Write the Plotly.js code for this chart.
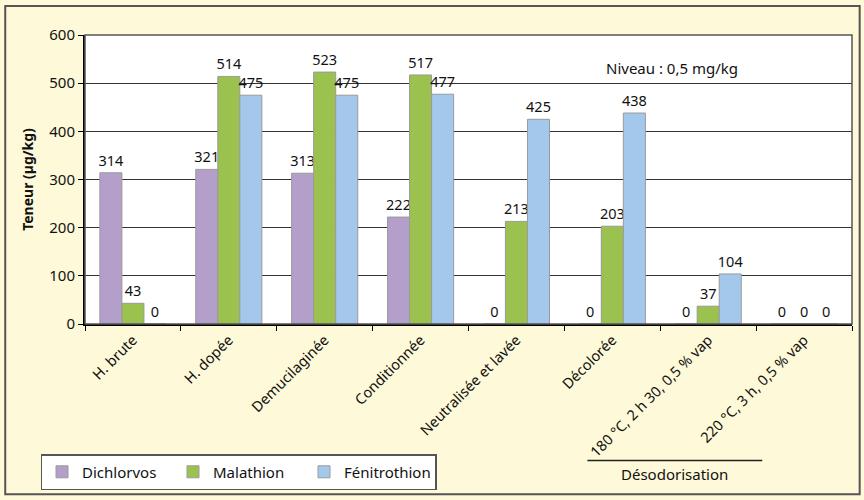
<!DOCTYPE html>
<html><head><meta charset="utf-8">
<script src="https://cdn.plot.ly/plotly-3.0.1.min.js"></script>
<style>body{margin:0;background:#fff;} #c{width:864px;height:500px;}</style>
</head><body><div id="c"></div>
<script>
const categories = ["H. brute","H. dopée","Demucilaginée","Conditionnée","Neutralisée et lavée","Décolorée","180 °C, 2 h 30, 0,5 % vap","220 °C, 3 h, 0,5 % vap"];
const dichlorvos = [314,321,313,222,0,0,0,0];
const malathion = [43,514,523,517,213,203,37,0];
const fenitrothion = [0,475,475,477,425,438,104,0];
const seriesNames = ["Dichlorvos","Malathion","Fénitrothion"];
const colors = ["#b49fca","#9bc24f","#a3c8eb"];
const font = "Noto Sans, sans-serif";

const mk = (name, y, color) => ({
  type:"bar", name, x:categories, y,
  marker:{color, line:{color:"#9a9a9a", width:1}},
  text:y.map(String), textposition:"outside", cliponaxis:false, constraintext:"none",
  textfont:{family:font, size:14.5, color:"#111"}
});
const data = [mk(seriesNames[0],dichlorvos,colors[0]), mk(seriesNames[1],malathion,colors[1]), mk(seriesNames[2],fenitrothion,colors[2])];

const layout = {
  width:864, height:500,
  paper_bgcolor:"#fef9d8", plot_bgcolor:"#ffffff",
  margin:{l:85, r:12, t:35, b:175},
  font:{family:font, size:15, color:"#111"},
  barmode:"group", bargap:0.31, bargroupgap:0,
  xaxis:{tickangle:-45, tickson:"boundaries", ticks:"outside", ticklen:5, tickcolor:"#000",
    showline:true, linecolor:"#000", linewidth:2, mirror:false, tickfont:{size:14.5}},
  yaxis:{range:[0,600], dtick:100, ticks:"outside", ticklen:5, tickcolor:"#000",
    showline:true, linecolor:"#000", linewidth:2, gridcolor:"#333", gridwidth:1,
    zeroline:false, tickfont:{size:15},
    title:{text:"Teneur (µg/kg)", font:{size:14, weight:"bold"}, standoff:12}},
  showlegend:true,
  legend:{orientation:"h", x:-0.058, xanchor:"left", y:-0.445, yanchor:"top",
    bgcolor:"#fff", bordercolor:"#555", borderwidth:1.5, font:{size:15},
    entrywidth:86, entrywidthmode:"pixels", itemwidth:30},
  annotations:[
    {text:"Niveau : 0,5 mg/kg", xref:"paper", yref:"paper", x:0.765, y:0.886, xanchor:"center", yanchor:"middle", showarrow:false, font:{size:15}},
    {text:"Désodorisation", xref:"paper", yref:"paper", x:0.768, y:-0.52, xanchor:"center", yanchor:"middle", showarrow:false, font:{size:15}}
  ],
  shapes:[
    {type:"line", xref:"paper", yref:"paper", x0:0.655, x1:0.883, y0:-0.472, y1:-0.472, line:{color:"#222", width:1.5}},
    {type:"rect", xref:"paper", yref:"paper", x0:0, x1:1, y0:0, y1:1, line:{color:"#555", width:1.5}},
    {type:"rect", xref:"paper", yref:"paper", x0:-0.104, x1:1.01, y0:-0.589, y1:1.1, line:{color:"#555", width:2}}
  ]
};
Plotly.newPlot("c", data, layout, {displayModeBar:false, staticPlot:true});
</script></body></html>
